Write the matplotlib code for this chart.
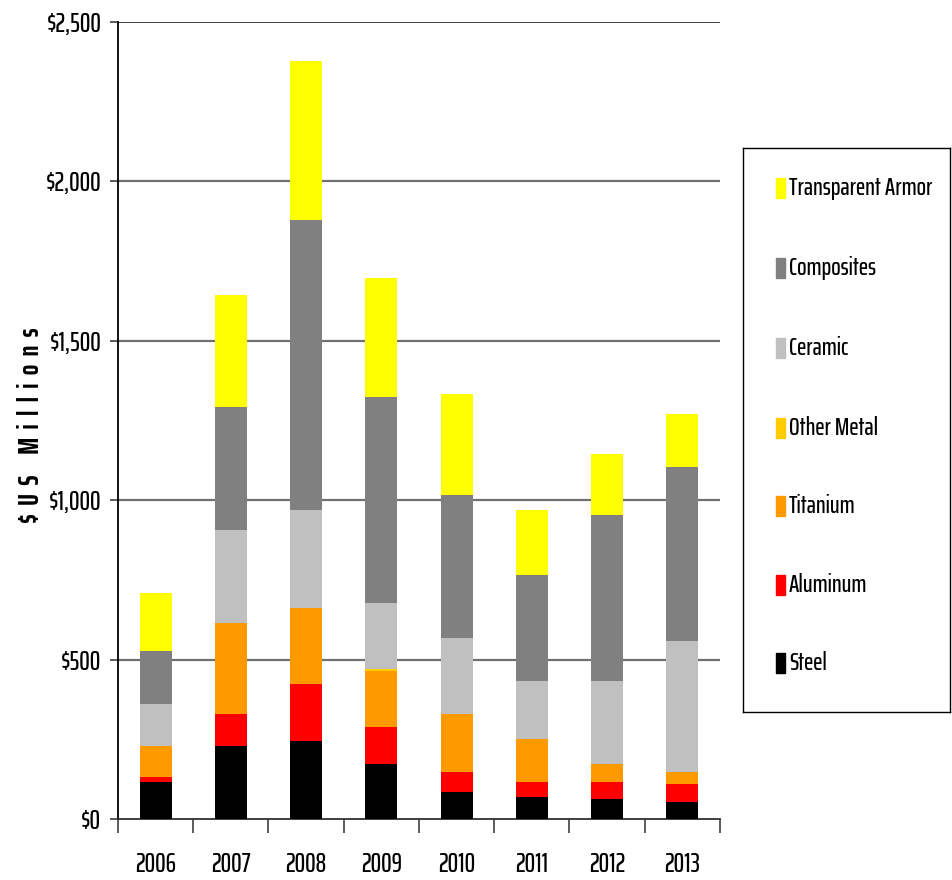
import numpy as np
import matplotlib
matplotlib.use('Agg')
import matplotlib.pyplot as plt
from matplotlib.patches import Rectangle

plt.rcParams['font.family'] = ['Saira ExtraCondensed', 'Fira Sans Extra Condensed', 'Liberation Sans', 'DejaVu Sans']
plt.rcParams['font.weight'] = 500

years = ['2006', '2007', '2008', '2009', '2010', '2011', '2012', '2013']

# US$ millions, bottom to top of the stack
steel = [117, 229, 245, 173, 86, 69, 63, 53]
aluminum = [15, 100, 179, 116, 62, 48, 54, 57]
titanium = [97, 286, 238, 175, 182, 134, 56, 38]
other_metal = [0, 0, 0, 7, 0, 0, 0, 0]
ceramic = [132, 292, 307, 207, 238, 183, 261, 410]
composites = [167, 385, 910, 646, 448, 331, 520, 546]
transparent = [181, 352, 499, 373, 317, 204, 191, 166]

series = [
    ('Steel', steel, '#000000'),
    ('Aluminum', aluminum, '#FF0000'),
    ('Titanium', titanium, '#FF9900'),
    ('Other Metal', other_metal, '#FFCC00'),
    ('Ceramic', ceramic, '#C0C0C0'),
    ('Composites', composites, '#808080'),
    ('Transparent Armor', transparent, '#FFFF00'),
]

fig = plt.figure(figsize=(9.53, 8.8), dpi=100)
ax = fig.add_axes([118 / 953, 1 - 819 / 880, 602 / 953, 797 / 880])

x = np.arange(len(years))
bottom = np.zeros(len(years))
for name, vals, col in series:
    ax.bar(x, vals, width=0.425, bottom=bottom, color=col, label=name, zorder=3)
    bottom += np.array(vals)

ax.set_xlim(-0.5, len(years) - 0.5)
ax.set_ylim(0, 2500)

yt = np.arange(0, 2501, 500)
ax.set_yticks(yt)
ax.set_yticklabels([f'${v:,.0f}' for v in yt], fontsize=19)
for v in yt[1:-1]:
    ax.axhline(v, color='#707070', lw=1.6, zorder=1)
ax.axhline(2500, color='#202020', lw=1.2, zorder=1)

ax.set_xticks(x)
ax.set_xticklabels(years, fontsize=19)
ax.set_xticks(np.arange(-0.5, len(years)), minor=True)
ax.tick_params(axis='x', which='major', length=0, pad=24)
ax.tick_params(axis='x', which='minor', length=10, width=1.2, color='#404040', direction='out')
ax.tick_params(axis='y', length=6, width=1.2, color='#404040', pad=6, direction='out')

for s in ['top', 'right']:
    ax.spines[s].set_visible(False)
ax.spines['left'].set_color('black')
ax.spines['left'].set_linewidth(1.3)
ax.spines['bottom'].set_color('#303030')
ax.spines['bottom'].set_linewidth(1.3)

fig.text(31 / 953, 1 - 425 / 880, '$  U  S     M  i  l  l  i  o  n  s', rotation=90,
         ha='center', va='center', fontsize=20, fontweight='bold')

# legend box
lax = fig.add_axes([743 / 953, 1 - 712 / 880, 207 / 953, 564 / 880])
lax.set_xlim(743, 950)
lax.set_ylim(712, 148)
lax.set_xticks([])
lax.set_yticks([])
for s in lax.spines.values():
    s.set_linewidth(1.0)
    s.set_color('black')
ys = [188, 268, 348, 428, 506, 585, 663]
for (name, vals, col), yy in zip(series[::-1], ys):
    lax.add_patch(Rectangle((776, yy - 10), 9, 20, color=col))
    lax.text(789, yy, name, va='center', ha='left', fontsize=18)

fig.savefig('out.png', dpi=100)
